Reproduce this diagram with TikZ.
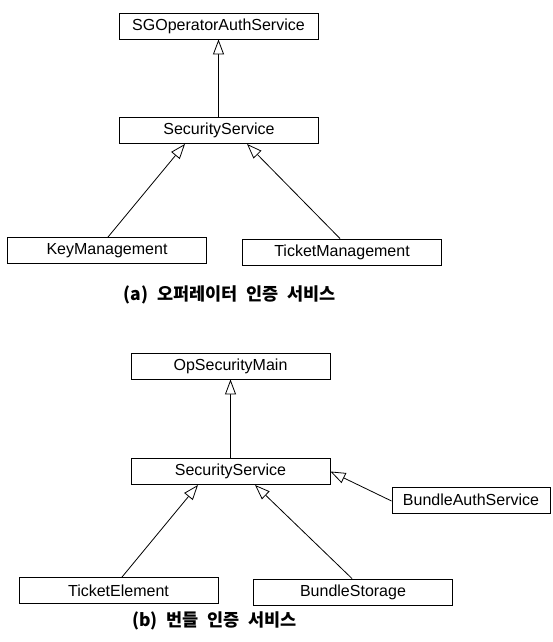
\documentclass[tikz,border=0pt]{standalone}
\usepackage{fontspec}
\setmainfont{Liberation Sans}
\newfontfamily\krfont[WordSpace=2.2]{Noto Sans CJK KR}
\usetikzlibrary{arrows.meta}
\begin{document}
\begin{tikzpicture}[x=1pt,y=-1pt,
  cls/.style={draw=black, line width=0.9pt, fill=white, inner sep=0pt,
    minimum width=199pt, minimum height=26pt, font=\fontsize{16}{18}\selectfont},
  gen/.style={draw=black, line width=0.8pt,
    -{Triangle[open, length=15pt, width=11pt, fill=white, line width=0.8pt]}},
  caption/.style={inner sep=0pt, font=\krfont\bfseries\fontsize{17.5}{20}\selectfont}]
\useasboundingbox (0,0) rectangle (552,642);

% (a) operator authentication service
\node[cls] (aTop)  at (218.5,26)  {SGOperatorAuthService};
\node[cls] (aSec)  at (219,130.5) {SecurityService};
\node[cls] (aKey)  at (107,250.5) {KeyManagement};
\node[cls] (aTick) at (342,252)   {TicketManagement};
\node[caption] (capA) at (230,295) {(a) 오퍼레이터 인증 서비스};

\draw[gen] ([xshift=-0.5pt]aSec.north) -- ([xshift=-0.5pt]aSec.north |- aTop.south);
\draw[gen] ([xshift=1pt]aKey.north) -- ([xshift=-34pt]aSec.south);
\draw[gen] ([xshift=-2pt]aTick.north) -- ([xshift=28pt]aSec.south);

% (b) bundle authentication service
\node[cls] (bTop)    at (230.5,366)   {OpSecurityMain};
\node[cls] (bSec)    at (230.5,471.5) {SecurityService};
\node[cls, minimum width=158pt] (bAuth) at (471,500) {BundleAuthService};
\node[cls] (bTicket) at (118.5,590.5) {TicketElement};
\node[cls] (bStore)  at (353,592)     {BundleStorage};
\node[caption, anchor=west] (capB) at (132,621) {(b) 번들 인증 서비스};

\draw[gen] (bSec.north) -- (bSec.north |- bTop.south);
\draw[gen] ([xshift=3.5pt]bTicket.north) -- ([xshift=-32.5pt]bSec.south);
\draw[gen] ([xshift=-1pt]bStore.north) -- ([xshift=24.5pt]bSec.south);
\draw[gen] ([yshift=-1pt]bAuth.west) -- (bSec.east);
\end{tikzpicture}
\end{document}
